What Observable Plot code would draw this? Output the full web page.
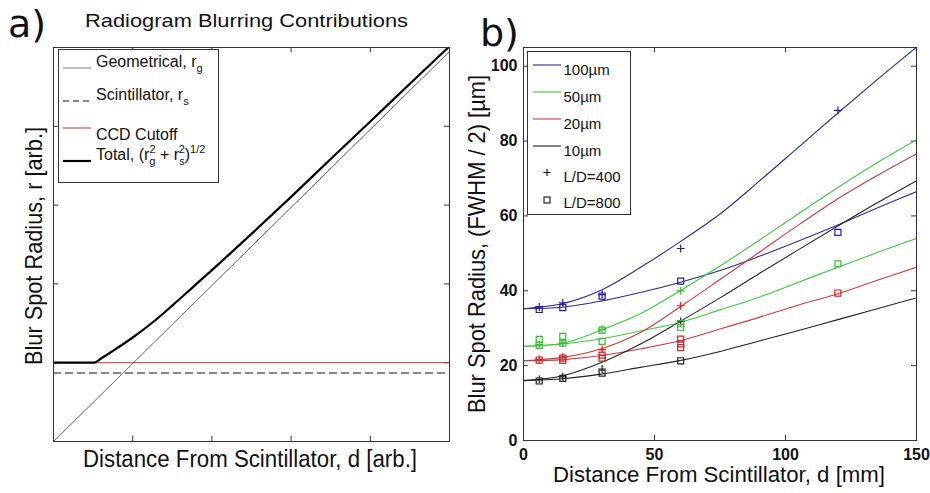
<!DOCTYPE html>
<html><head><meta charset="utf-8">
<script src="https://cdn.jsdelivr.net/npm/d3@7"></script>
<script src="https://cdn.jsdelivr.net/npm/@observablehq/plot@0.6"></script>
<style>
body{margin:0;background:#fff;}
#wrap{position:relative;width:930px;height:493px;overflow:hidden;background:#fff}
#pa{position:absolute;left:0;top:0}
#pb{position:absolute;left:465px;top:0}
#wrap svg{overflow:visible}
#pb g[aria-label="y-axis tick label"] text, #pb g[aria-label="x-axis tick label"] text{font-weight:bold}
</style></head><body>
<div id="wrap"><div id="pa"></div><div id="pb"></div></div>
<script>
// ---------- Panel a data (arbitrary units) ----------
const aTicks = [0.2, 0.4, 0.6, 0.8];
const geomDist = [0, 1];
const geomR = [0, 0.99];
const scintR = 0.174;
const ccdR = 0.2;
const totalDist = [0, 0.1, 0.125, 0.15, 0.2, 0.25, 0.3, 0.35, 0.4, 0.5, 0.6, 0.7, 0.8, 0.9, 1.0];
const totalR = [0.2, 0.2, 0.214, 0.23, 0.264, 0.302, 0.345, 0.39, 0.435, 0.527, 0.621, 0.717, 0.812, 0.908, 1.003];

// ---------- Panel b data ----------
const bXTicks = [0, 50, 100, 150];
const bYTicks = [0, 20, 40, 60, 80, 100];
const fitD = [0, 15, 30, 45, 60, 75, 90, 105, 120, 135, 150];
const fit100_400 = [35.2, 36.6, 40.3, 46.4, 53.2, 60.5, 69.3, 78.4, 87.5, 96.4, 105.1];
const fit100_800 = [35.2, 35.6, 37.3, 39.6, 42.3, 45.4, 49.2, 53.3, 57.6, 62.1, 66.5];
const fit50_400 = [25.2, 26.0, 29.6, 34.0, 40.1, 46.6, 53.5, 60.6, 67.6, 74.2, 80.3];
const fit50_800 = [25.2, 25.8, 27.2, 29.3, 31.6, 34.9, 38.3, 42.3, 46.3, 50.2, 54.0];
const fit20_400 = [21.3, 22.2, 24.6, 29.0, 35.8, 43.0, 50.3, 57.6, 64.6, 70.8, 76.6];
const fit20_800 = [21.3, 21.6, 22.7, 24.5, 26.7, 29.8, 32.9, 36.2, 39.2, 42.8, 46.3];
const fit10_400 = [16.0, 17.3, 20.9, 25.9, 31.9, 38.1, 44.6, 51.0, 57.3, 63.5, 69.4];
const fit10_800 = [16.0, 16.5, 17.8, 19.6, 21.4, 23.8, 26.6, 29.4, 32.3, 35.2, 38.1];

const p100_d = [6, 15, 30, 60, 120];
const p100_v = [35.7, 36.8, 39.0, 51.3, 88.2];
const s100_d = [6, 15, 30, 60, 120];
const s100_v = [35.0, 35.5, 38.6, 42.6, 55.6];
const p50_d = [6, 15, 30, 60];
const p50_v = [25.6, 26.1, 29.7, 40.0];
const s50_d = [6, 6, 15, 15, 30, 30, 60, 60, 120];
const s50_v = [27.0, 25.4, 27.8, 26.0, 29.5, 26.5, 31.2, 30.2, 47.2];
const p20_d = [6, 15, 30, 60];
const p20_v = [21.7, 22.3, 24.3, 36.0];
const s20_d = [6, 15, 15, 30, 30, 60, 60, 60, 120];
const s20_v = [21.5, 22.0, 21.4, 22.8, 22.0, 27.1, 25.8, 24.8, 39.4];
const p10_d = [6, 15, 30, 60];
const p10_v = [16.3, 17.0, 19.1, 31.8];
const s10_d = [6, 15, 30, 60];
const s10_v = [15.9, 16.6, 18.0, 21.3];

const legendB = ["100\u00b5m", "50\u00b5m", "20\u00b5m", "10\u00b5m"];
const colLine = {"100": "#2a2a8c", "50": "#3cc83c", "20": "#c83c3c", "10": "#222222"};
const colMark = {"100": "#2020b0", "50": "#30c030", "20": "#d42424", "10": "#222222"};

const zip = (xs, ys) => xs.map((x, i) => ({x, y: ys[i]}));
const FONT = "'Liberation Sans', Arial, sans-serif";

// thin '+' symbol
const plusSym = {draw(ctx, size) { const r = Math.sqrt(size / Math.PI); ctx.moveTo(-r, 0); ctx.lineTo(r, 0); ctx.moveTo(0, -r); ctx.lineTo(0, r); }};

function addText(svg, o) {
  const t = svg.append("text")
    .attr("x", o.x).attr("y", o.y)
    .attr("font-family", o.family || FONT)
    .attr("font-size", o.size)
    .attr("text-anchor", o.anchor || "middle")
    .attr("fill", "#111")
    .text(o.text);
  if (o.len) t.attr("textLength", o.len).attr("lengthAdjust", "spacingAndGlyphs");
  if (o.rotate) t.attr("transform", `rotate(${o.rotate},${o.x},${o.y})`);
  return t;
}

// ================= Panel a =================
const WA = 465, HA = 493, mLa = 53, mRa = 16, mTa = 47, mBa = 52;
const innerWA = WA - mLa - mRa, innerHA = HA - mTa - mBa;
const chartA = Plot.plot({
  width: WA, height: HA,
  marginLeft: mLa, marginRight: mRa, marginTop: mTa, marginBottom: mBa,
  x: {domain: [0, 1], axis: null},
  y: {domain: [0, 1], axis: null},
  style: {background: "white", fontFamily: FONT},
  marks: [
    Plot.tickX(aTicks, {x: d => d, insetTop: innerHA - 5, stroke: "#333"}),
    Plot.tickX(aTicks, {x: d => d, insetBottom: innerHA - 5, stroke: "#333"}),
    Plot.tickY(aTicks, {y: d => d, insetRight: innerWA - 5, stroke: "#333"}),
    Plot.tickY(aTicks, {y: d => d, insetLeft: innerWA - 5, stroke: "#333"}),
    Plot.ruleY([scintR], {stroke: "#111", strokeWidth: 1.1, strokeDasharray: "8,4"}),
    Plot.ruleY([ccdR], {stroke: "#c83232", strokeWidth: 1}),
    Plot.line(zip(geomDist, geomR), {x: "x", y: "y", stroke: "#333", strokeWidth: 0.8}),
    Plot.line(zip(totalDist, totalR), {x: "x", y: "y", stroke: "#000", strokeWidth: 2.2, curve: "monotone-x", clip: true}),
    Plot.frame({stroke: "#333"})
  ]
});
document.getElementById("pa").appendChild(chartA);
{
  const svg = d3.select(chartA);
  addText(svg, {x: 8, y: 37, text: "a)", size: 38, anchor: "start", family: "'DejaVu Sans', sans-serif"});
  addText(svg, {x: 246.5, y: 27, text: "Radiogram Blurring Contributions", size: 18.5, len: 323});
  addText(svg, {x: 250, y: 467, text: "Distance From Scintillator, d [arb.]", size: 23, len: 334});
  addText(svg, {x: 42, y: 246, text: "Blur Spot Radius, r [arb.]", size: 24, len: 238, rotate: -90});
  // legend
  const g = svg.append("g").attr("font-family", FONT).attr("font-size", 16).attr("fill", "#111").attr("text-anchor", "start");
  g.append("rect").attr("x", 58.5).attr("y", 49.5).attr("width", 160).attr("height", 133).attr("fill", "white").attr("stroke", "#333");
  const rowsA = [
    {ly: 68, ty: 67, stroke: "#555", w: 0.8, dash: null},
    {ly: 101, ty: 100, stroke: "#111", w: 1.1, dash: "6,4"},
    {ly: 128, ty: 140, stroke: "#c83232", w: 1, dash: null},
    {ly: 161, ty: 160, stroke: "#000", w: 2.2, dash: null}
  ];
  rowsA.forEach(r => {
    const l = g.append("line").attr("x1", 63).attr("x2", 91).attr("y1", r.ly).attr("y2", r.ly).attr("stroke", r.stroke).attr("stroke-width", r.w);
    if (r.dash) l.attr("stroke-dasharray", r.dash);
  });
  let t = g.append("text").attr("x", 96).attr("y", rowsA[0].ty);
  t.append("tspan").text("Geometrical, r");
  t.append("tspan").attr("font-size", 11).attr("dy", 5).text("g");
  t = g.append("text").attr("x", 96).attr("y", rowsA[1].ty);
  t.append("tspan").text("Scintillator, r");
  t.append("tspan").attr("font-size", 11).attr("dy", 5).text("s");
  g.append("text").attr("x", 96).attr("y", rowsA[2].ty).text("CCD Cutoff");
  t = g.append("text").attr("x", 96).attr("y", rowsA[3].ty);
  t.append("tspan").text("Total, (r");
  t.append("tspan").attr("font-size", 11).attr("dy", 5).text("g");
  t.append("tspan").attr("font-size", 11).attr("dx", -6).attr("dy", -12).text("2");
  t.append("tspan").attr("dy", 7).text(" + r");
  t.append("tspan").attr("font-size", 11).attr("dy", 5).text("s");
  t.append("tspan").attr("font-size", 11).attr("dx", -6).attr("dy", -12).text("2");
  t.append("tspan").attr("dy", 7).text(")");
  t.append("tspan").attr("font-size", 11).attr("dy", -7).text("1/2");
}

// ================= Panel b =================
const WB = 465, HB = 493, mLb = 58, mRb = 14, mTb = 47, mBb = 53;
const innerWB = WB - mLb - mRb, innerHB = HB - mTb - mBb;
const fits = [
  [fit100_400, "100"], [fit100_800, "100"], [fit50_400, "50"], [fit50_800, "50"],
  [fit20_400, "20"], [fit20_800, "20"], [fit10_400, "10"], [fit10_800, "10"]
];
const pluses = [[p100_d, p100_v, "100"], [p50_d, p50_v, "50"], [p20_d, p20_v, "20"], [p10_d, p10_v, "10"]];
const squares = [[s100_d, s100_v, "100"], [s50_d, s50_v, "50"], [s20_d, s20_v, "20"], [s10_d, s10_v, "10"]];

const chartB = Plot.plot({
  width: WB, height: HB,
  marginLeft: mLb, marginRight: mRb, marginTop: mTb, marginBottom: mBb,
  x: {domain: [0, 150]},
  y: {domain: [0, 105]},
  style: {background: "white", fontFamily: FONT, fontSize: "16px", color: "#111"},
  marks: [
    Plot.axisX({ticks: bXTicks, tickSize: 0, tickPadding: 8, label: null, fontSize: 16}),
    Plot.axisY({ticks: bYTicks, tickSize: 0, tickPadding: 6, label: null, fontSize: 16}),
    Plot.tickX(bXTicks, {x: d => d, insetTop: innerHB - 5, stroke: "#333"}),
    Plot.tickX(bXTicks, {x: d => d, insetBottom: innerHB - 5, stroke: "#333"}),
    Plot.tickY(bYTicks, {y: d => d, insetRight: innerWB - 5, stroke: "#333"}),
    Plot.tickY(bYTicks, {y: d => d, insetLeft: innerWB - 5, stroke: "#333"}),
    ...fits.map(([vals, k]) => Plot.line(zip(fitD, vals), {x: "x", y: "y", stroke: colLine[k], strokeWidth: 1.1, curve: "catmull-rom", clip: true})),
    ...pluses.map(([ds, vs, k]) => Plot.dot(zip(ds, vs), {x: "x", y: "y", symbol: plusSym, r: 4, stroke: colMark[k], strokeWidth: 1.2, fill: "none"})),
    ...squares.map(([ds, vs, k]) => Plot.dot(zip(ds, vs), {x: "x", y: "y", symbol: "square", r: 3.4, stroke: colMark[k], strokeWidth: 1.2, fill: "none"})),
    Plot.frame({stroke: "#333"})
  ]
});
document.getElementById("pb").appendChild(chartB);
{
  const svg = d3.select(chartB);
  addText(svg, {x: 15, y: 46, text: "b)", size: 38, anchor: "start", family: "'DejaVu Sans', sans-serif"});
  addText(svg, {x: 254, y: 482, text: "Distance From Scintillator, d [mm]", size: 22, len: 332});
  addText(svg, {x: 20, y: 244, text: "Blur Spot Radius, (FWHM / 2) [\u00b5m]", size: 24, len: 338, rotate: -90});
  // legend
  const g = svg.append("g").attr("font-family", FONT).attr("font-size", 15).attr("fill", "#111").attr("text-anchor", "start");
  g.append("rect").attr("x", 62.5).attr("y", 51.5).attr("width", 103).attr("height", 163).attr("fill", "white").attr("stroke", "#333");
  const keys = ["100", "50", "20", "10"];
  const lineY = [65, 92, 119, 146];
  keys.forEach((k, i) => {
    g.append("line").attr("x1", 68).attr("x2", 96).attr("y1", lineY[i]).attr("y2", lineY[i]).attr("stroke", colLine[k]).attr("stroke-width", 1.1);
    g.append("text").attr("x", 98.5).attr("y", lineY[i] + 10).text(legendB[i]);
  });
  g.append("path").attr("d", "M78.5,172.5h7M82,169v7").attr("stroke", "#111").attr("stroke-width", 1.1).attr("fill", "none");
  g.append("text").attr("x", 98.5).attr("y", 182).text("L/D=400");
  g.append("rect").attr("x", 79).attr("y", 197).attr("width", 6).attr("height", 6).attr("stroke", "#111").attr("stroke-width", 1.1).attr("fill", "none");
  g.append("text").attr("x", 98.5).attr("y", 208).text("L/D=800");
}
</script>
</body></html>
